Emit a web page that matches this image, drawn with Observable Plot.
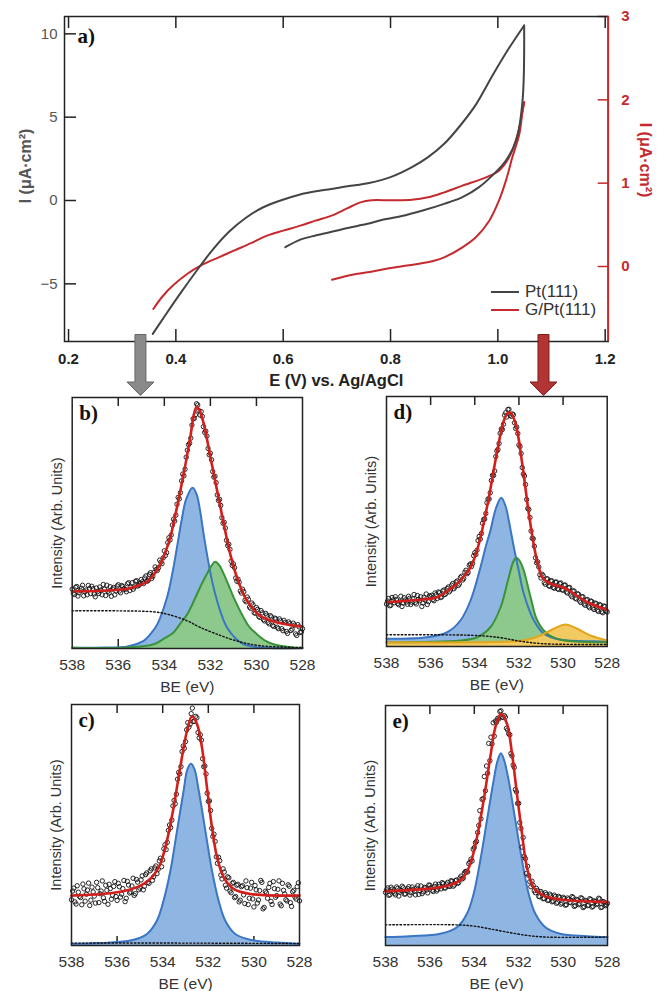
<!DOCTYPE html>
<html><head><meta charset="utf-8">
<script src="https://cdn.jsdelivr.net/npm/d3@7"></script>
<script src="https://cdn.jsdelivr.net/npm/@observablehq/plot@0.6"></script>
<style>
body{margin:0;background:#fff;}
#root{position:relative;width:662px;height:991px;background:#fff;font-family:"Liberation Sans",Arial,sans-serif;}
#root svg{position:absolute;}
.legend{position:absolute;left:491px;top:283px;font:17px "Liberation Sans",Arial,sans-serif;color:#333;}
.legend div{display:flex;align-items:center;height:18px;}
.legend .sw{display:inline-block;width:28px;height:0;border-top:2.5px solid;margin-right:6px;}
</style></head><body><div id="root"></div>
<script>
// ---------- panel a: cyclic voltammetry ----------
const eTicks = [0.2, 0.4, 0.6, 0.8, 1.0, 1.2];
const iTicks = [-5, 0, 5, 10];
const rTicks = [0, 1, 2, 3];
const legendLabels = ["Pt(111)", "G/Pt(111)"];
// [E (V), I (µA·cm²)] left axis
const ptForward = [[0.357,-8.0],[0.38,-6.9],[0.41,-5.5],[0.446,-3.9],[0.47,-2.9],[0.5,-1.85],[0.53,-1.05],[0.56,-0.45],[0.595,0.0],[0.63,0.35],[0.67,0.6],[0.72,0.85],[0.76,1.05],[0.8,1.4],[0.84,2.0],[0.87,2.6],[0.9,3.4],[0.93,4.5],[0.96,5.8],[0.99,7.5],[1.02,9.1],[1.049,10.5]];
const ptReverse = [[1.049,10.5],[1.046,6.0],[1.034,3.6],[1.015,2.4],[0.996,1.7],[0.965,0.8],[0.934,0.2],[0.9,-0.2],[0.86,-0.6],[0.819,-0.95],[0.78,-1.2],[0.757,-1.4],[0.72,-1.65],[0.694,-1.85],[0.66,-2.1],[0.632,-2.35],[0.604,-2.8]];
// [E (V), I (µA·cm²)] right axis
const gForward = [[0.358,-0.51],[0.375,-0.36],[0.396,-0.22],[0.421,-0.09],[0.446,0.01],[0.48,0.11],[0.508,0.19],[0.54,0.28],[0.57,0.37],[0.6,0.43],[0.632,0.49],[0.66,0.55],[0.694,0.62],[0.72,0.70],[0.744,0.77],[0.765,0.795],[0.8,0.795],[0.84,0.80],[0.87,0.83],[0.9,0.89],[0.934,0.97],[0.978,1.07],[1.002,1.15],[1.021,1.31],[1.037,1.59],[1.049,1.97]];
const gReverse = [[1.049,1.97],[1.046,1.87],[1.04,1.59],[1.027,1.31],[1.015,1.03],[1.002,0.79],[0.984,0.55],[0.959,0.35],[0.934,0.23],[0.9,0.11],[0.881,0.07],[0.85,0.03],[0.819,0.0],[0.79,-0.03],[0.757,-0.07],[0.72,-0.11],[0.691,-0.16]];
const arrowE = [0.334, 1.085];

// ---------- XPS panels ----------
const beTicks = [536, 534, 532, 530];
const beLabels = [538, 536, 534, 532, 530, 528];
const BE = [538.0,537.9,537.8,537.7,537.6,537.5,537.4,537.3,537.2,537.1,
537.0,536.9,536.8,536.7,536.6,536.5,536.4,536.3,536.2,536.1,
536.0,535.9,535.8,535.7,535.6,535.5,535.4,535.3,535.2,535.1,
535.0,534.9,534.8,534.7,534.6,534.5,534.4,534.3,534.2,534.1,
534.0,533.9,533.8,533.7,533.6,533.5,533.4,533.3,533.2,533.1,
533.0,532.9,532.8,532.7,532.6,532.5,532.4,532.3,532.2,532.1,
532.0,531.9,531.8,531.7,531.6,531.5,531.4,531.3,531.2,531.1,
531.0,530.9,530.8,530.7,530.6,530.5,530.4,530.3,530.2,530.1,
530.0,529.9,529.8,529.7,529.6,529.5,529.4,529.3,529.2,529.1,
529.0,528.9,528.8,528.7,528.6,528.5,528.4,528.3,528.2,528.1,
528.0];
const BE2 = [537.95,537.85,537.75,537.65,537.55,537.45,537.35,537.25,537.15,537.05,
536.95,536.85,536.75,536.65,536.55,536.45,536.35,536.25,536.15,536.05,
535.95,535.85,535.75,535.65,535.55,535.45,535.35,535.25,535.15,535.05,
534.95,534.85,534.75,534.65,534.55,534.45,534.35,534.25,534.15,534.05,
533.95,533.85,533.75,533.65,533.55,533.45,533.35,533.25,533.15,533.05,
532.95,532.85,532.75,532.65,532.55,532.45,532.35,532.25,532.15,532.05,
531.95,531.85,531.75,531.65,531.55,531.45,531.35,531.25,531.15,531.05,
530.95,530.85,530.75,530.65,530.55,530.45,530.35,530.25,530.15,530.05,
529.95,529.85,529.75,529.65,529.55,529.45,529.35,529.25,529.15,529.05,
528.95,528.85,528.75,528.65,528.55,528.45,528.35,528.25,528.15,528.05];
const dataB = [.236,.215,.247,.222,.240,.210,.233,.251,.219,.238,
.206,.227,.245,.214,.236,.252,.221,.208,.243,.229,
.254,.222,.247,.235,.258,.231,.262,.245,.270,.252,
.275,.259,.289,.271,.302,.288,.325,.311,.352,.338,
.389,.382,.441,.452,.515,.531,.602,.621,.695,.714,
.790,.818,.890,.917,.975,.948,.944,.884,.866,.797,
.778,.705,.686,.612,.594,.521,.503,.431,.415,.348,
.337,.281,.276,.229,.236,.192,.205,.165,.181,.143,
.163,.128,.151,.115,.140,.104,.131,.092,.121,.085,
.118,.079,.112,.068,.106,.072,.101,.058,.095,.064,
.079];
const dataB2 = [.220,.244,.209,.231,.252,.226,.214,.239,.248,.217,
.241,.219,.233,.255,.211,.228,.246,.237,.214,.249,
.229,.251,.238,.226,.262,.244,.236,.268,.249,.258,
.266,.281,.268,.295,.279,.303,.315,.322,.344,.361,
.371,.422,.433,.492,.508,.575,.596,.668,.688,.762,
.812,.838,.915,.931,.970,.930,.925,.861,.846,.772,
.752,.683,.661,.590,.570,.499,.480,.410,.395,.331,
.322,.268,.264,.221,.226,.186,.196,.160,.174,.140,
.156,.124,.142,.110,.133,.098,.126,.088,.118,.079,
.110,.071,.104,.060,.099,.077,.093,.052,.086,.066];
const dataD = [.170,.192,.165,.186,.199,.172,.181,.160,.195,.178,
.201,.168,.190,.176,.204,.183,.160,.197,.210,.179,
.199,.188,.214,.192,.215,.198,.226,.213,.238,.226,
.252,.238,.262,.250,.281,.272,.305,.296,.330,.332,
.375,.385,.440,.452,.508,.532,.590,.615,.685,.702,
.782,.812,.870,.889,.935,.948,.925,.930,.895,.878,
.806,.772,.690,.648,.552,.516,.433,.401,.335,.318,
.274,.283,.249,.270,.241,.262,.233,.258,.228,.254,
.225,.246,.214,.236,.199,.222,.190,.209,.176,.199,
.165,.188,.155,.180,.148,.171,.140,.165,.135,.160,
.138];
const dataD2 = [.182,.163,.196,.175,.188,.167,.201,.174,.186,.169,
.193,.177,.208,.170,.189,.199,.174,.186,.168,.203,
.205,.183,.207,.218,.196,.222,.208,.232,.219,.245,
.231,.258,.244,.276,.266,.297,.291,.325,.320,.363,
.368,.424,.430,.493,.510,.575,.590,.664,.684,.760,
.788,.853,.868,.925,.918,.949,.921,.927,.872,.852,
.800,.716,.682,.588,.548,.462,.431,.355,.339,.287,
.289,.255,.271,.243,.263,.236,.257,.231,.252,.227,
.245,.218,.235,.206,.222,.193,.211,.182,.199,.170,
.186,.161,.182,.154,.174,.145,.168,.139,.162,.142];
const dataC = [.190,.238,.172,.221,.199,.255,.184,.230,.166,.242,
.205,.262,.178,.226,.198,.250,.171,.236,.209,.265,
.187,.244,.213,.270,.196,.251,.222,.279,.215,.263,
.238,.289,.246,.301,.258,.318,.285,.330,.316,.362,
.355,.418,.428,.500,.520,.602,.628,.718,.742,.828,
.846,.925,.918,.985,.930,.945,.862,.852,.742,.712,
.598,.560,.452,.432,.341,.352,.276,.305,.238,.281,
.219,.262,.203,.254,.188,.248,.174,.240,.196,.262,
.160,.231,.189,.270,.152,.225,.196,.258,.170,.236,
.207,.268,.165,.229,.190,.252,.178,.223,.201,.244,
.185];
const dataC2 = [.226,.181,.248,.204,.169,.235,.213,.259,.188,.222,
.176,.240,.215,.268,.183,.229,.254,.192,.245,.203,
.258,.201,.236,.182,.266,.218,.247,.208,.274,.231,
.272,.231,.294,.262,.310,.270,.322,.298,.351,.327,
.401,.398,.478,.489,.579,.588,.690,.712,.805,.818,
.895,.906,.962,.930,.951,.884,.874,.775,.745,.632,
.600,.486,.462,.368,.366,.292,.318,.250,.285,.226,
.258,.199,.250,.181,.244,.210,.268,.170,.238,.193,
.249,.176,.228,.262,.158,.219,.241,.183,.265,.200,
.233,.172,.258,.214,.185,.246,.162,.229,.193,.260];
const dataE = [.221,.240,.212,.235,.218,.244,.206,.229,.241,.215,
.237,.210,.244,.226,.239,.213,.248,.224,.240,.219,
.251,.230,.246,.227,.255,.236,.258,.240,.263,.246,
.268,.252,.273,.262,.289,.281,.308,.306,.347,.352,
.408,.434,.500,.528,.612,.645,.718,.770,.840,.872,
.930,.944,.978,.950,.952,.898,.878,.790,.742,.640,
.592,.488,.450,.362,.330,.266,.268,.228,.238,.205,
.225,.195,.220,.188,.214,.182,.210,.176,.205,.172,
.201,.168,.198,.180,.204,.163,.192,.170,.199,.158,
.188,.166,.195,.160,.186,.171,.197,.158,.183,.166,
.176];
const dataE2 = [.232,.209,.243,.226,.211,.238,.222,.247,.214,.230,
.245,.220,.234,.211,.249,.228,.216,.242,.231,.252,
.241,.225,.256,.233,.247,.262,.239,.256,.248,.270,
.247,.270,.259,.281,.277,.302,.309,.341,.360,.401,
.428,.471,.562,.609,.704,.748,.842,.868,.928,.935,
.946,.975,.952,.958,.905,.882,.800,.752,.650,.592,
.512,.410,.372,.300,.292,.245,.251,.220,.229,.203,
.218,.196,.213,.189,.207,.185,.204,.180,.200,.177,
.196,.170,.193,.178,.200,.166,.189,.174,.196,.162,
.185,.168,.192,.163,.183,.174,.194,.160,.181,.170];

const fitB = [[538,0.228],[537,0.229],[536,0.234],[535.6,0.238],[535.0,0.255],[534.75,0.266],[534.5,0.29],[534.17,0.337],[533.95,0.385],[533.74,0.443],[533.45,0.563],[533.16,0.696],[532.87,0.843],[532.72,0.93],[532.6,0.962],[532.48,0.95],[532.29,0.896],[532.0,0.763],[531.71,0.63],[531.42,0.497],[531.14,0.377],[530.85,0.284],[530.6,0.225],[530.41,0.19],[529.84,0.13],[529.1,0.104],[528,0.087]];
const blueB = [[538,0.003],[536.5,0.004],[535.6,0.008],[534.9,0.03],[534.6,0.058],[534.3,0.097],[533.88,0.204],[533.65,0.3],[533.45,0.403],[533.25,0.51],[533.05,0.595],[532.77,0.64],[532.6,0.615],[532.44,0.545],[532.3,0.46],[532.15,0.377],[531.93,0.27],[531.71,0.19],[531.5,0.13],[531.28,0.084],[530.9,0.04],[530.56,0.017],[529.84,0.004],[528,0.002]];
const greenB = [[538,0.003],[535.6,0.004],[534.46,0.017],[534.0,0.04],[533.6,0.064],[533.3,0.1],[533.0,0.137],[532.58,0.217],[532.35,0.262],[532.15,0.297],[531.95,0.33],[531.79,0.346],[531.6,0.33],[531.42,0.297],[531.2,0.25],[530.99,0.204],[530.56,0.124],[530.3,0.085],[529.98,0.057],[529.6,0.03],[529.26,0.017],[528.4,0.004],[528,0.003]];
const baseB = [[538,0.15],[536,0.15],[534.46,0.146],[533.88,0.137],[533.0,0.11],[532.44,0.084],[531.71,0.057],[530.85,0.03],[529.84,0.011],[528,0.004]];

const fitD = [[538,0.177],[536.91,0.184],[535.7,0.197],[535.2,0.225],[534.8,0.251],[534.5,0.28],[534.19,0.317],[533.95,0.37],[533.74,0.437],[533.36,0.597],[532.98,0.784],[532.68,0.904],[532.5,0.935],[532.38,0.935],[532.15,0.891],[531.85,0.731],[531.55,0.531],[531.25,0.371],[531.05,0.3],[530.95,0.277],[530.57,0.251],[529.96,0.235],[529.51,0.211],[528.91,0.177],[528,0.147]];
const blueD = [[538,0.031],[536.16,0.037],[535.25,0.057],[534.65,0.104],[534.19,0.184],[533.74,0.317],[533.5,0.4],[533.29,0.464],[533.05,0.55],[532.8,0.595],[532.6,0.56],[532.46,0.504],[532.23,0.397],[532.0,0.3],[531.78,0.211],[531.32,0.104],[530.87,0.051],[530.11,0.027],[528.6,0.021],[528,0.02]];
const greenD = [[538,0.017],[534.65,0.024],[533.89,0.037],[533.29,0.077],[532.83,0.157],[532.46,0.277],[532.25,0.34],[532.12,0.355],[531.95,0.34],[531.78,0.304],[531.47,0.197],[531.17,0.104],[530.72,0.051],[530.11,0.027],[528.6,0.017],[528,0.017]];
const yellowD = [[538,0.017],[532.38,0.02],[531.63,0.027],[531.02,0.044],[530.42,0.071],[529.89,0.088],[529.36,0.071],[528.76,0.044],[528,0.024]];
const baseD = [[538,0.047],[533.9,0.044],[532.83,0.035],[531.93,0.021],[530.87,0.011],[528,0.008]];

const fitC = [[538,0.207],[536.29,0.217],[535.5,0.23],[535.12,0.242],[534.8,0.258],[534.54,0.277],[534.3,0.305],[534.1,0.339],[533.81,0.436],[533.52,0.574],[533.23,0.74],[532.93,0.892],[532.72,0.95],[532.5,0.92],[532.28,0.823],[532.06,0.657],[531.84,0.491],[531.62,0.367],[531.33,0.284],[530.89,0.235],[530.16,0.214],[528,0.207]];
const blueC = [[538,0.007],[536.29,0.012],[535.27,0.024],[534.69,0.048],[534.25,0.104],[533.96,0.187],[533.66,0.311],[533.37,0.477],[533.08,0.643],[532.92,0.73],[532.76,0.754],[532.6,0.73],[532.42,0.643],[532.13,0.477],[531.84,0.311],[531.55,0.187],[531.26,0.104],[530.82,0.048],[530.16,0.024],[529.0,0.012],[528,0.007]];
const baseC = [[538,0.01],[533,0.01],[528,0.008]];

const fitE = [[538,0.226],[536.13,0.236],[535.4,0.245],[534.93,0.257],[534.7,0.268],[534.48,0.285],[534.18,0.34],[533.88,0.451],[533.58,0.604],[533.28,0.785],[533.05,0.91],[532.8,0.965],[532.53,0.924],[532.3,0.799],[532.08,0.632],[531.85,0.465],[531.63,0.326],[531.33,0.243],[530.88,0.208],[530.13,0.192],[528,0.181]];
const blueE = [[538,0.035],[536.88,0.039],[535.53,0.049],[534.78,0.076],[534.33,0.132],[534.03,0.215],[533.73,0.354],[533.43,0.521],[533.13,0.687],[532.95,0.77],[532.8,0.801],[532.65,0.77],[532.45,0.687],[532.15,0.521],[531.85,0.354],[531.55,0.215],[531.25,0.132],[530.8,0.076],[530.13,0.049],[528.93,0.039],[528,0.035]];
const baseE = [[538,0.086],[534.78,0.086],[534.03,0.081],[533.28,0.069],[532.53,0.056],[531.63,0.042],[530.73,0.035],[528,0.035]];

// ---------- styles ----------
const RED = "#c42a2e", DARK = "#444", FRAME = "#222";
const SANS = "Liberation Sans, Arial, sans-serif", SERIF = "Liberation Serif, Times New Roman, serif";
const BLUE = {fill: "#8fb6e2", stroke: "#3b76c4"};
const GREEN = {fill: "#8dc98d", stroke: "#3a923a"};
const YELLOW = {fill: "#f2ca62", stroke: "#e2a51c"};

const root = document.getElementById("root");

// ---------- main CV plot ----------
const xDom = [0.1925, 1.2056], yDom = [-8.46, 11.04];
const RS = 5, RO = -3.96; // right-axis value v is drawn at RS*v + RO on the left scale
const toLeft = v => RS * v + RO;
const W = 662, H = 400, mL = 64, mR = 54.3, mT = 16, mB = 59;
const fw = W - mL - mR, fh = H - mT - mB;
const arrowSymbol = {draw(ctx) {
  ctx.moveTo(-5.5, -30.5); ctx.lineTo(5.5, -30.5); ctx.lineTo(5.5, 17); ctx.lineTo(13.5, 17);
  ctx.lineTo(0, 30.5); ctx.lineTo(-13.5, 17); ctx.lineTo(-5.5, 17); ctx.closePath();
}};
const xy = {x: d => d[0], y: d => d[1]};
const xyR = {x: d => d[0], y: d => toLeft(d[1])};

const main = Plot.plot({
  width: W, height: H, marginLeft: mL, marginRight: mR, marginTop: mT, marginBottom: mB,
  x: {domain: xDom}, y: {domain: yDom},
  style: {background: "none", overflow: "visible", fontFamily: SANS},
  marks: [
    Plot.tickX(eTicks, {x: d => d, insetBottom: fh - 12, stroke: FRAME, strokeWidth: 1.5}),
    Plot.tickX(eTicks, {x: d => d, insetTop: fh - 12, stroke: FRAME, strokeWidth: 1.5}),
    Plot.tickY(iTicks, {y: d => d, insetRight: fw - 12, stroke: FRAME, strokeWidth: 1.5}),
    Plot.tickY(rTicks, {y: d => toLeft(d), insetLeft: fw - 10, stroke: RED, strokeWidth: 1.5}),
    Plot.frame({stroke: FRAME, strokeWidth: 1.5}),
    Plot.ruleX([xDom[1]], {stroke: RED, strokeWidth: 1.8}),
    Plot.axisX(eTicks, {tickSize: 0, tickPadding: 12, tickFormat: d => d.toFixed(1), fontSize: 15, fontWeight: "bold", color: "#222", label: null}),
    Plot.axisY(iTicks, {tickSize: 0, tickPadding: 7, fontSize: 15, color: "#555", label: null}),
    Plot.axisY(rTicks.map(toLeft), {anchor: "right", tickSize: 0, tickPadding: 13, tickFormat: d => String(Math.round((d - RO) / RS)), fontSize: 15, fontWeight: "bold", color: RED, label: null}),
    Plot.line(gForward, {...xyR, stroke: RED, strokeWidth: 2, curve: "catmull-rom"}),
    Plot.line(gReverse, {...xyR, stroke: RED, strokeWidth: 2, curve: "catmull-rom"}),
    Plot.line(ptForward, {...xy, stroke: DARK, strokeWidth: 2, curve: "catmull-rom"}),
    Plot.line(ptReverse, {...xy, stroke: DARK, strokeWidth: 2, curve: "catmull-rom"}),
    Plot.text(["a)"], {frameAnchor: "top-left", dx: 13, dy: 12, textAnchor: "start", lineAnchor: "top", fontSize: 21, fontWeight: "bold", fontFamily: SERIF, fill: "#111"}),
    Plot.text(["E (V) vs. Ag/AgCl"], {frameAnchor: "bottom", dy: 39, lineAnchor: "middle", fontSize: 16.5, fontWeight: "bold", fill: "#222"}),
    Plot.text(["I (μA·cm²)"], {frameAnchor: "left", rotate: -90, dx: -39, dy: -13, textAnchor: "middle", lineAnchor: "middle", fontSize: 16, fontWeight: "bold", fill: "#555"}),
    Plot.text(["I (μA·cm²)"], {frameAnchor: "right", rotate: 90, dx: 37, dy: -19, textAnchor: "middle", lineAnchor: "middle", fontSize: 16, fontWeight: "bold", fill: RED}),
    Plot.dot([arrowE[0]], {x: d => d, frameAnchor: "bottom", dy: 23.5, symbol: arrowSymbol, fill: "#8a8a8a", stroke: "#666", strokeWidth: 1}),
    Plot.dot([arrowE[1]], {x: d => d, frameAnchor: "bottom", dy: 23.5, symbol: arrowSymbol, fill: "#b23434", stroke: "#7e1e1e", strokeWidth: 1})
  ]
});

// ---------- XPS panel builder ----------
function panel({left, top, width, height, mL, mR, mT, mB, tag, comps, base, fit, data, data2}) {
  const fw = width - mL - mR, fh = height - mT - mB;
  const pts = BE.map((b, i) => [b, data[i]]).concat(BE2.map((b, i) => [b, data2[i]]));
  const svg = Plot.plot({
    width, height, marginLeft: mL, marginRight: mR, marginTop: mT, marginBottom: mB,
    x: {domain: [538, 528]}, y: {domain: [0, 1], axis: null},
    style: {background: "none", overflow: "visible", fontFamily: SANS},
    marks: [
      Plot.tickX(beTicks, {x: d => d, insetTop: fh - 9, stroke: FRAME, strokeWidth: 1.5}),
      ...comps.map(c => Plot.areaY(c.data, {...xy, fill: c.style.fill, curve: "catmull-rom"})),
      ...comps.map(c => Plot.line(c.data, {...xy, stroke: c.style.stroke, strokeWidth: 2, curve: "catmull-rom"})),
      Plot.line(base, {...xy, stroke: "#111", strokeWidth: 1.4, strokeDasharray: "1.5,2.2", curve: "catmull-rom"}),
      Plot.dot(pts, {...xy, r: 2.2, stroke: "#111", strokeWidth: 0.9, fill: "none"}),
      Plot.line(fit, {...xy, stroke: "#d21f1b", strokeWidth: 2.6, curve: "catmull-rom"}),
      Plot.frame({stroke: FRAME, strokeWidth: 1.5}),
      Plot.tickX(beTicks, {x: d => d, insetBottom: fh - 9, stroke: FRAME, strokeWidth: 1.5}),
      Plot.axisX(beLabels, {tickSize: 0, tickPadding: 10, fontSize: 15.5, color: "#333", label: null}),
      Plot.text(["BE (eV)"], {frameAnchor: "bottom", dy: 39, lineAnchor: "middle", fontSize: 15.5, fill: "#333"}),
      Plot.text(["Intensity (Arb. Units)"], {frameAnchor: "left", rotate: -90, dx: -15, textAnchor: "middle", lineAnchor: "middle", fontSize: 14.5, fill: "#333"}),
      Plot.text([tag], {frameAnchor: "top-left", dx: 7, dy: 8, textAnchor: "start", lineAnchor: "top", fontSize: 21, fontWeight: "bold", fontFamily: SERIF, fill: "#111"})
    ]
  });
  svg.style.left = left + "px";
  svg.style.top = top + "px";
  root.appendChild(svg);
}

panel({left: 0, top: 390, width: 320, height: 300, mL: 71.7, mR: 18, mT: 7, mB: 42, tag: "b)",
  comps: [{data: blueB, style: BLUE}, {data: greenB, style: GREEN}], base: baseB, fit: fitB, data: dataB, data2: dataB2});
panel({left: 330, top: 390, width: 320, height: 300, mL: 56, mR: 43.3, mT: 6, mB: 44, tag: "d)",
  comps: [{data: blueD, style: BLUE}, {data: greenD, style: GREEN}, {data: yellowD, style: YELLOW}], base: baseD, fit: fitD, data: dataD, data2: dataD2});
panel({left: 0, top: 695, width: 320, height: 296, mL: 71, mR: 21, mT: 9, mB: 46, tag: "c)",
  comps: [{data: blueC, style: BLUE}], base: baseC, fit: fitC, data: dataC, data2: dataC2});
panel({left: 330, top: 695, width: 320, height: 296, mL: 55, mR: 43, mT: 10, mB: 46, tag: "e)",
  comps: [{data: blueE, style: BLUE}], base: baseE, fit: fitE, data: dataE, data2: dataE2});

main.style.left = "0px"; main.style.top = "0px";
root.appendChild(main);

// legend
const lg = document.createElement("div");
lg.className = "legend";
[DARK, RED].forEach((c, i) => {
  const row = document.createElement("div");
  const sw = document.createElement("span"); sw.className = "sw"; sw.style.borderTopColor = c;
  row.appendChild(sw); row.appendChild(document.createTextNode(legendLabels[i]));
  lg.appendChild(row);
});
root.appendChild(lg);
</script></body></html>
